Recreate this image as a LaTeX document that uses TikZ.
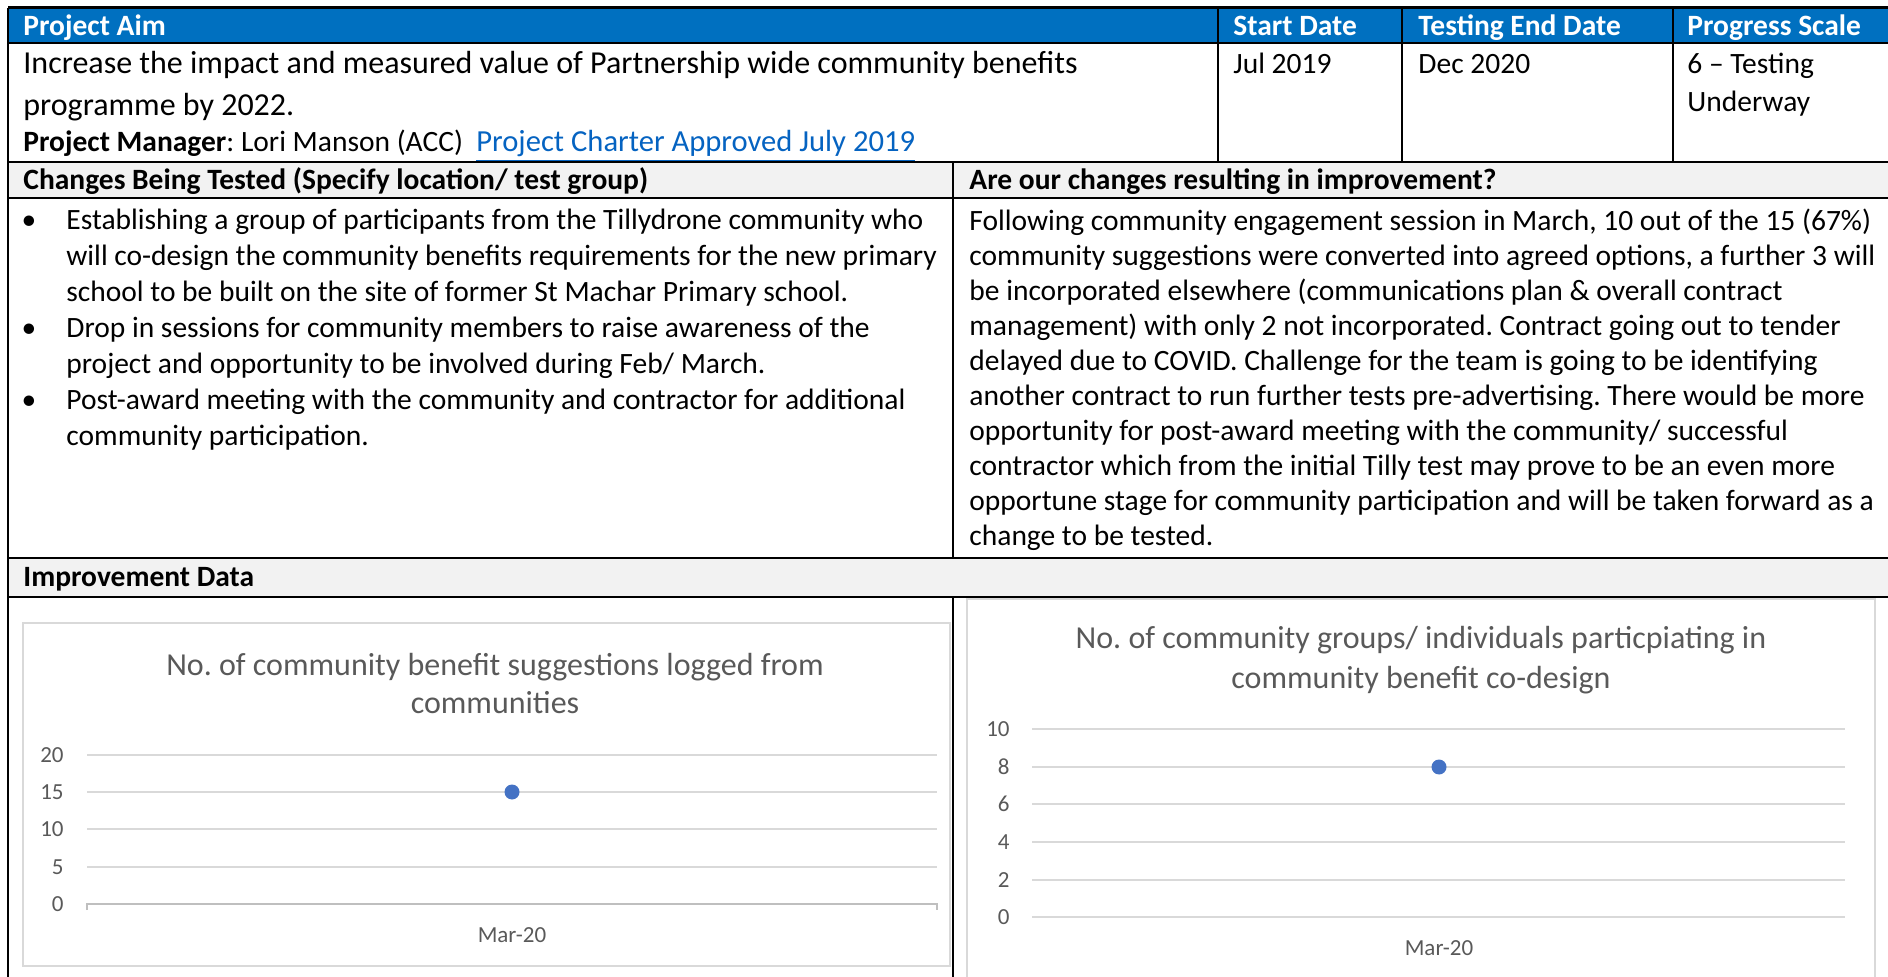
\documentclass[tikz,border=0pt]{standalone}
\usepackage{fontspec}
\setmainfont{Carlito}
\definecolor{hdrblue}{HTML}{0070C0}
\definecolor{band}{HTML}{F2F2F2}
\definecolor{chtxt}{HTML}{595959}
\definecolor{grid}{HTML}{D9D9D9}
\definecolor{axis}{HTML}{BFBFBF}
\definecolor{dotblue}{HTML}{4472C4}
\definecolor{linkblue}{HTML}{0563C1}
\frenchspacing
\begin{document}
\begin{tikzpicture}[x=0.5pt,y=-0.5pt,
  tline/.style={line width=1pt,black},
  cline/.style={line width=0.8pt,black},
  body/.style={anchor=base west,inner sep=0pt,font=\fontsize{14.75}{18}\selectfont},
  aim/.style={body,font=\fontsize{16}{19}\selectfont},
  hdr/.style={body,font=\fontsize{14.75}{18}\selectfont\bfseries},
  whdr/.style={hdr,text=white},
  bul/.style={anchor=base,inner sep=0pt,font=\fontsize{14.75}{18}\selectfont},
  ctitle/.style={anchor=base,inner sep=0pt,text=chtxt,font=\fontsize{16}{20}\selectfont},
  clab/.style={anchor=base east,inner sep=0pt,text=chtxt,font=\fontsize{11.5}{14}\selectfont},
  cx/.style={anchor=base,inner sep=0pt,text=chtxt,font=\fontsize{11.5}{14}\selectfont},
  gridln/.style={grid,line width=0.8pt},
  frame/.style={draw=grid,line width=0.6pt},
  pt/.style={circle,fill=dotblue,inner sep=0pt,minimum size=7.5pt}]
\useasboundingbox (0,0) rectangle (1888,977);
% backgrounds
\fill[hdrblue] (8,8) rectangle (1888,43);
\fill[band] (8,162) rectangle (1888,198);
\fill[band] (8,558) rectangle (1888,597);
% table lines
\draw[line width=1.5pt] (8,8) -- (1888,8);
\draw[tline] (8,43) -- (1888,43);
\draw[tline] (8,162) -- (1888,162);
\draw[tline] (8,198) -- (1888,198);
\draw[tline] (8,558) -- (1888,558);
\draw[tline] (8,597) -- (1888,597);
\draw[line width=1.2pt] (8,8) -- (8,977);
\draw[cline] (1218,8) -- (1218,162);
\draw[cline] (1402,8) -- (1402,162);
\draw[cline] (1673,8) -- (1673,162);
\draw[cline] (953,162) -- (953,558);
\draw[cline] (953,597) -- (953,977);
% header row
\node[whdr] (h1) at (23,36) {Project Aim};
\node[whdr] (h2) at (1233,36) {Start Date};
\node[whdr] (h3) at (1418,36) {Testing End Date};
\node[whdr] (h4) at (1687,36) {Progress Scale};
% aim row
\node[aim] (a1) at (23,74) {Increase the impact and measured value of Partnership wide community benefits};
\node[aim] (a2) at (23,116) {programme by 2022.};
\node[body] (a3) at (23,152) {\textbf{Project Manager}: Lori Manson (ACC)\ \ {\fontsize{15.3}{18}\selectfont\textcolor{linkblue}{\underline{Project Charter Approved July 2019}}}};
\node[body] (d1) at (1233,74) {Jul 2019};
\node[body] (d2) at (1418,74) {Dec 2020};
\node[body] (d3) at (1687,74) {6 – Testing};
\node[body] (d4) at (1687,112) {Underway};
% section headers
\node[hdr] (s1) at (23,190) {Changes Being Tested (Specify location/ test group)};
\node[hdr] (s2) at (969,190) {Are our changes resulting in improvement?};
% bullets
\node[bul] (b1) at (29,230) {•};
\node[bul] (b2) at (29,338) {•};
\node[bul] (b3) at (29,410) {•};
\node[body] (l1) at (66,230) {Establishing a group of participants from the Tillydrone community who};
\node[body] (l2) at (66,266) {will co-design the community benefits requirements for the new primary};
\node[body] (l3) at (66,302) {school to be built on the site of former St Machar Primary school.};
\node[body] (l4) at (66,338) {Drop in sessions for community members to raise awareness of the};
\node[body] (l5) at (66,374) {project and opportunity to be involved during Feb/ March.};
\node[body] (l6) at (66,410) {Post-award meeting with the community and contractor for additional};
\node[body] (l7) at (66,446) {community participation.};
% right text
\node[body] (r1) at (969,231) {Following community engagement session in March, 10 out of the 15 (67\%)};
\node[body] (r2) at (969,266) {community suggestions were converted into agreed options, a further 3 will};
\node[body] (r3) at (969,301) {be incorporated elsewhere (communications plan \& overall contract};
\node[body] (r4) at (969,336) {management) with only 2 not incorporated. Contract going out to tender};
\node[body] (r5) at (969,371) {delayed due to COVID. Challenge for the team is going to be identifying};
\node[body] (r6) at (969,406) {another contract to run further tests pre-advertising. There would be more};
\node[body] (r7) at (969,441) {opportunity for post-award meeting with the community/ successful};
\node[body] (r8) at (969,476) {contractor which from the initial Tilly test may prove to be an even more};
\node[body] (r9) at (969,511) {opportune stage for community participation and will be taken forward as a};
\node[body] (r10) at (969,546) {change to be tested.};
% improvement data
\node[hdr] (s3) at (23,587) {Improvement Data};
% left chart
\draw[frame] (23,623) rectangle (950,966);
\node[ctitle] (t1) at (495,675) {No. of community benefit suggestions logged from};
\node[ctitle] (t2) at (495,713) {communities};
\foreach \v/\y in {20/755,15/792,10/829,5/867}{
  \draw[gridln] (87,\y) -- (937,\y);
  \node[clab] at (64,\y+7) {\v};
}
\draw[axis,line width=0.8pt] (87,910) -- (87,904) -- (937,904) -- (937,910);
\node[clab] at (64,911) {0};
\node[pt] (p1) at (512,792) {};
\node[cx] (m1) at (512,942) {Mar-20};
% right chart
\draw[frame] (967,599) rectangle (1875,990);
\node[ctitle] (t3) at (1421,648) {No. of community groups/ individuals particpiating in};
\node[ctitle] (t4) at (1421,688) {community benefit co-design};
\foreach \v/\y in {10/729,8/767,6/804,4/842,2/880,0/917}{
  \draw[gridln] (1032,\y) -- (1845,\y);
  \node[clab] at (1010,\y+7) {\v};
}
\node[pt] (p2) at (1439,767) {};
\node[cx] (m2) at (1439,955) {Mar-20};
\end{tikzpicture}
\end{document}
